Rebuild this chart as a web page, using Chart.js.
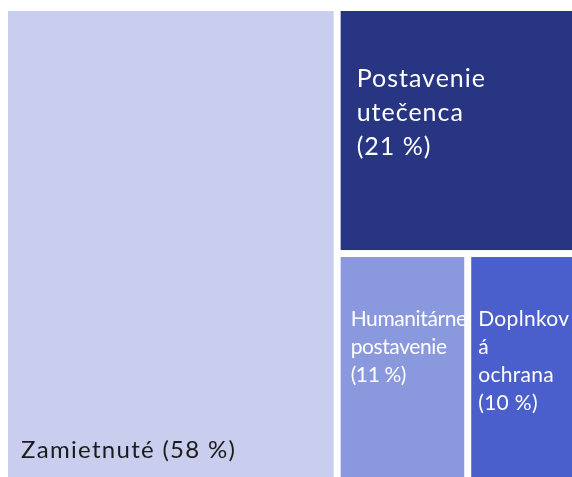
<!DOCTYPE html>
<html>
<head>
<meta charset="utf-8">
<script src="https://cdn.jsdelivr.net/npm/chart.js@4.4.1/dist/chart.umd.min.js"></script>
<style>
    html, body { margin: 0; padding: 0; overflow: hidden; background: #fff; width: 572px; height: 477px; }
    #caixa { position: absolute; left: 0; top: 0; width: 582px; height: 495px; }
</style>
</head>
<body>
<div id="caixa"><canvas id="grafico"></canvas></div>
<script>
// Dados do gráfico
var categorias = ['Zamietnuté', 'Postavenie utečenca', 'Humanitárne postavenie', 'Doplnková ochrana'];
var valores = [57.6, 21.4, 11.2, 9.8];
// Quebra de linha dos nomes como no original
var nomesLinhas = [['Zamietnuté'], ['Postavenie', 'utečenca'], ['Humanitárne', 'postavenie'], ['Doplnkov', 'á', 'ochrana']];

// Estilos
var cores = ['#c9cdee', '#283583', '#8a99de', '#4a5fcb'];
var estiloTexto = [
    { cor: '#1b1b1b', tamanho: 24, esp: 1.3, dx: 13, dy: 33.5, linha: 0, embaixo: true },
    { cor: '#ffffff', tamanho: 25, esp: 1, dx: 16, dy: 76, linha: 34 },
    { cor: '#ffffff', tamanho: 21, esp: -0.4, dx: 10, dy: 69, linha: 28 },
    { cor: '#ffffff', tamanho: 21, esp: 0.3, dx: 7, dy: 69, linha: 28 }
];
var espaco = 7;

function pior(linha, lado) {
    var s = 0, max = 0, min = Infinity;
    linha.forEach(function (a) { s += a; max = Math.max(max, a); min = Math.min(min, a); });
    return Math.max(lado * lado * max / (s * s), (s * s) / (lado * lado * min));
}

// Algoritmo squarify simples
function squarify(vals, largura, altura) {
    var total = vals.reduce(function (a, b) { return a + b; }, 0);
    var areas = vals.map(function (v) { return v / total * largura * altura; });
    var ret = { x: 0, y: 0, w: largura, h: altura };
    var saida = [];
    var linha = [];

    function colocar(linha) {
        var s = linha.reduce(function (a, b) { return a + b; }, 0);
        if (ret.w >= ret.h) {
            var lw = s / ret.h, yy = ret.y;
            linha.forEach(function (a) {
                saida.push({ x: ret.x, y: yy, w: lw, h: a / lw });
                yy += a / lw;
            });
            ret.x += lw; ret.w -= lw;
        } else {
            var lh = s / ret.w, xx = ret.x;
            linha.forEach(function (a) {
                saida.push({ x: xx, y: ret.y, w: a / lh, h: lh });
                xx += a / lh;
            });
            ret.y += lh; ret.h -= lh;
        }
    }

    var i = 0;
    while (i < areas.length) {
        var lado = Math.min(ret.w, ret.h);
        if (linha.length === 0 || pior(linha.concat([areas[i]]), lado) <= pior(linha, lado)) {
            linha.push(areas[i]);
            i++;
        } else {
            colocar(linha);
            linha = [];
        }
    }
    if (linha.length) colocar(linha);
    return saida;
}

var pluginTreemap = {
    id: 'treemap',
    afterDatasetsDraw: function (chart) {
        var ctx = chart.ctx;
        var area = chart.chartArea;
        var sx = chart.scales.x, sy = chart.scales.y;
        var W = area.right - area.left, H = area.bottom - area.top;
        var rects = squarify(valores, W, H);

        ctx.save();
        rects.forEach(function (r, i) {
            // converte para unidades das escalas (0..100)
            var x0 = sx.getPixelForValue(r.x / W * 100) + espaco / 2;
            var x1 = sx.getPixelForValue((r.x + r.w) / W * 100) - espaco / 2;
            var y0 = sy.getPixelForValue(r.y / H * 100) + espaco / 2;
            var y1 = sy.getPixelForValue((r.y + r.h) / H * 100) - espaco / 2;
            ctx.fillStyle = cores[i];
            ctx.fillRect(x0, y0, x1 - x0, y1 - y0);

            var est = estiloTexto[i];
            var pct = '(' + Math.round(valores[i]) + ' %)';
            var linhas = est.embaixo ? [nomesLinhas[i].join(' ') + ' ' + pct] : nomesLinhas[i].concat([pct]);
            ctx.fillStyle = est.cor;
            ctx.font = est.tamanho + 'px Lato';
            ctx.letterSpacing = est.esp + 'px';
            ctx.textAlign = 'left';
            ctx.textBaseline = 'alphabetic';
            linhas.forEach(function (t, k) {
                var ty = est.embaixo ? y1 - est.dy : y0 + est.dy + k * est.linha;
                ctx.fillText(t, x0 + est.dx, ty);
            });
        });
        ctx.restore();
    }
};

var ctx = document.getElementById('grafico').getContext('2d');
new Chart(ctx, {
    type: 'scatter',
    data: { datasets: [{ label: categorias.join(', '), data: [] }] },
    options: {
        responsive: true,
        maintainAspectRatio: false,
        animation: false,
        layout: { padding: { left: 4.5, top: 7.5, right: 0, bottom: 0 } },
        plugins: { legend: { display: false }, tooltip: { enabled: false } },
        scales: {
            x: { type: 'linear', min: 0, max: 100, display: false },
            y: { type: 'linear', min: 0, max: 100, reverse: true, display: false }
        }
    },
    plugins: [pluginTreemap]
});
</script>
</body>
</html>
